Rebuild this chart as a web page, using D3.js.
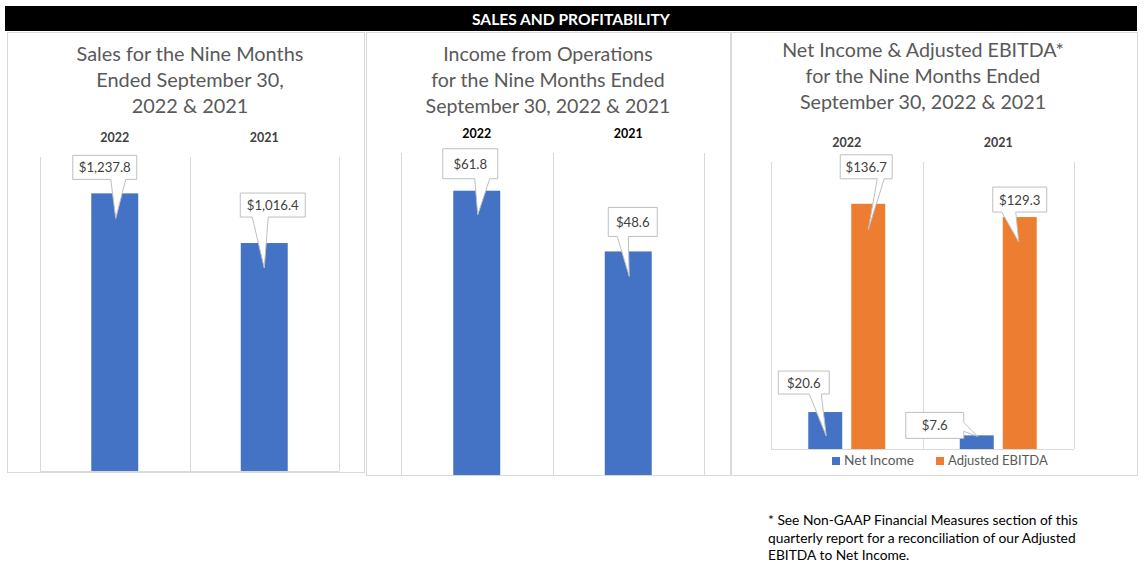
<!DOCTYPE html>
<html>
<head>
<meta charset="utf-8">
<script src="https://cdn.jsdelivr.net/npm/d3@7"></script>
<style>
  html, body { margin: 0; padding: 0; background: #fff; }
  svg { display: block; }
  text { font-family: Lato, "Open Sans", "Liberation Sans", sans-serif; }
</style>
</head>
<body>
<svg id="chart" width="1146" height="573"></svg>
<script>
// ---------------- DATA ----------------
const bannerTitle = "SALES AND PROFITABILITY";
const years = ["2022", "2021"];
const salesValues = [1237.8, 1016.4];
const opsValues = [61.8, 48.6];
const seriesNames = ["Net Income", "Adjusted EBITDA"];
const netIncomeValues = [20.6, 7.6];
const ebitdaValues = [136.7, 129.3];
const salesLabels = ["$1,237.8", "$1,016.4"];
const opsLabels = ["$61.8", "$48.6"];
const netIncomeLabels = ["$20.6", "$7.6"];
const ebitdaLabels = ["$136.7", "$129.3"];
const salesTitle = ["Sales for the Nine Months", "Ended September 30,", "2022 & 2021"];
const opsTitle = ["Income from Operations", "for the Nine Months Ended", "September 30, 2022 & 2021"];
const netTitle = ["Net Income & Adjusted EBITDA*", "for the Nine Months Ended", "September 30, 2022 & 2021"];
const footnoteLines = [
  "* See Non-GAAP Financial Measures section of this",
  "quarterly report for a reconciliation of our Adjusted",
  "EBITDA to Net Income."
];
const salesDomain = [0, 1400];
const opsDomain = [0, 70];
const netDomain = [0, 160];

// ---------------- STYLE / LAYOUT ----------------
const BLUE = "#4472C4", ORANGE = "#ED7D31";
const GRID = "#d9d9d9", TITLE = "#595959", LABEL = "#404040", BOXSTROKE = "#bfbfbf";
const svg = d3.select("#chart");

function fit(sel, target) {
  const w = sel.node().getComputedTextLength();
  const fs = parseFloat(sel.attr("font-size"));
  const nfs = fs * target / w;
  sel.attr("font-size", nfs);
  return nfs;
}

// banner
svg.append("rect").attr("x", 5).attr("y", 6).attr("width", 1132).attr("height", 25).attr("fill", "#000");
const bt = svg.append("text").attr("x", 571).attr("y", 25).attr("text-anchor", "middle")
  .attr("fill", "#fff").attr("font-weight", "bold").attr("font-size", 14).text(bannerTitle);
fit(bt, 198);

// panel borders
const panels = [
  {x: 7, y: 32, w: 357, h: 440},
  {x: 366, y: 32, w: 364, h: 443},
  {x: 731, y: 32, w: 406, h: 443}
];
svg.selectAll("rect.panel").data(panels).join("rect").attr("class", "panel")
  .attr("x", d => d.x + 0.5).attr("y", d => d.y + 0.5).attr("width", d => d.w).attr("height", d => d.h)
  .attr("fill", "#fff").attr("stroke", GRID).attr("stroke-width", 1);

function drawTitle(lines, cx, y0, target) {
  const t = lines.map((s, i) => svg.append("text").attr("x", cx).attr("y", y0 + i * 26)
    .attr("text-anchor", "middle").attr("fill", TITLE).attr("font-size", 20).text(s));
  let widest = 0, wi = 0;
  t.forEach((s, i) => { const w = s.node().getComputedTextLength(); if (w > widest) { widest = w; wi = i; } });
  const fs = fit(t[wi], target);
  t.forEach(s => s.attr("font-size", fs));
}

function drawFrame(x, y, yearY, yearColor) {
  const [y0, y1] = y.range();
  const edges = [x.range()[0], ...x.domain().slice(1).map(d => x(d)), x.range()[1]];
  svg.selectAll(null).data(edges).join("line")
    .attr("x1", d => Math.round(d) + 0.5).attr("x2", d => Math.round(d) + 0.5)
    .attr("y1", y1).attr("y2", y0).attr("stroke", GRID);
  svg.append("line").attr("x1", x.range()[0]).attr("x2", x.range()[1])
    .attr("y1", Math.round(y0) + 0.5).attr("y2", Math.round(y0) + 0.5).attr("stroke", GRID);
  const yl = svg.selectAll(null).data(x.domain()).join("text")
    .attr("x", d => x(d) + x.bandwidth() / 2).attr("y", yearY).attr("text-anchor", "middle")
    .attr("font-weight", "bold").attr("fill", yearColor).attr("font-size", 13).text(d => d);
  const fs = fit(d3.select(yl.nodes()[0]), 29);
  yl.attr("font-size", fs);
}

let labelFS = null;
function callout(cx, ty, text, L) {
  const bx = cx + L.bx, by = ty + L.by, w = L.w, h = L.h;
  const tx = cx + L.tip[0], tyy = ty + L.tip[1];
  let p;
  if (L.side === "bottom") {
    const a = cx + L.base[0], b = cx + L.base[1];
    p = `M${bx},${by}H${bx + w}V${by + h}H${b}L${tx},${tyy}L${a},${by + h}H${bx}Z`;
  } else {
    const a = ty + L.base[0], b = ty + L.base[1];
    p = `M${bx},${by}H${bx + w}V${a}L${tx},${tyy}L${bx + w},${b}V${by + h}H${bx}Z`;
  }
  svg.append("path").attr("d", p).attr("fill", "#fff").attr("stroke", BOXSTROKE).attr("stroke-width", 1)
    .attr("stroke-linejoin", "miter");
  const t = svg.append("text").attr("x", bx + w / 2).attr("y", by + h / 2 + 5).attr("text-anchor", "middle")
    .attr("fill", LABEL).attr("font-size", labelFS || 14).text(text);
  if (!labelFS) labelFS = fit(t, 52);
}

// ---------------- PANEL 1: SALES ----------------
{
  const x = d3.scaleBand().domain(years).range([40, 339]);
  const y = d3.scaleLinear().domain(salesDomain).range([471, 157]);
  drawTitle(salesTitle, 190, 61, 227);
  drawFrame(x, y, 142, LABEL);
  const bw = x.bandwidth() * 0.314;
  svg.selectAll(null).data(salesValues).join("rect")
    .attr("x", (d, i) => x(years[i]) + x.bandwidth() / 2 - bw / 2).attr("width", bw)
    .attr("y", d => y(d)).attr("height", d => y(0) - y(d)).attr("fill", BLUE);
  const lay = [
    {side: "bottom", bx: -42, by: -38, w: 64, h: 24, base: [-4, 11], tip: [1, 25]},
    {side: "bottom", bx: -24, by: -50, w: 65, h: 24, base: [-12, 4], tip: [0, 25]}
  ];
  salesValues.forEach((v, i) => callout(x(years[i]) + x.bandwidth() / 2, y(v), salesLabels[i], lay[i]));
}

// ---------------- PANEL 2: OPERATIONS ----------------
{
  const x = d3.scaleBand().domain(years).range([401, 704]);
  const y = d3.scaleLinear().domain(opsDomain).range([475, 153]);
  drawTitle(opsTitle, 548, 61, 245);
  drawFrame(x, y, 138, "#000");
  const bw = x.bandwidth() * 0.31;
  svg.selectAll(null).data(opsValues).join("rect")
    .attr("x", (d, i) => x(years[i]) + x.bandwidth() / 2 - bw / 2).attr("width", bw)
    .attr("y", d => y(d)).attr("height", d => y(0) - y(d)).attr("fill", BLUE);
  const lay = [
    {side: "bottom", bx: -34, by: -42, w: 55, h: 30, base: [-2, 13], tip: [1, 24]},
    {side: "bottom", bx: -20, by: -44, w: 49, h: 29, base: [-11, 0], tip: [1, 25]}
  ];
  opsValues.forEach((v, i) => callout(x(years[i]) + x.bandwidth() / 2, y(v), opsLabels[i], lay[i]));
}

// ---------------- PANEL 3: NET INCOME & EBITDA ----------------
{
  const x = d3.scaleBand().domain(years).range([771, 1074]);
  const y = d3.scaleLinear().domain(netDomain).range([449, 162]);
  drawTitle(netTitle, 923, 57, 282);
  drawFrame(x, y, 147, LABEL);
  const gw = x.bandwidth() * 0.508;
  const xs = d3.scaleBand().domain(seriesNames).range([0, gw]).paddingInner(0.21);
  const series = [netIncomeValues, ebitdaValues];
  const colors = [BLUE, ORANGE];
  const labels = [netIncomeLabels, ebitdaLabels];
  const lay = [
    [
      {side: "bottom", bx: -47, by: -41, w: 51, h: 23, base: [-16, -4], tip: [1, 24]},
      {side: "right", bx: -71, by: -23, w: 58, h: 26, base: [-13, -4], tip: [1, 1]}
    ],
    [
      {side: "bottom", bx: -28, by: -49, w: 52, h: 24, base: [9, 16], tip: [0, 26]},
      {side: "bottom", bx: -27, by: -30, w: 54, h: 25, base: [-18, -4], tip: [-1, 25]}
    ]
  ];
  series.forEach((vals, s) => {
    svg.selectAll(null).data(vals).join("rect")
      .attr("x", (d, i) => x(years[i]) + x.bandwidth() / 2 - gw / 2 + xs(seriesNames[s]))
      .attr("width", xs.bandwidth())
      .attr("y", d => y(d)).attr("height", d => y(0) - y(d)).attr("fill", colors[s]);
  });
  series.forEach((vals, s) => {
    vals.forEach((v, i) => {
      const cx = x(years[i]) + x.bandwidth() / 2 - gw / 2 + xs(seriesNames[s]) + xs.bandwidth() / 2;
      callout(cx, y(v), labels[s][i], lay[s][i]);
    });
  });
  // legend
  const legX = [832, 936];
  const legW = [70, 100];
  seriesNames.forEach((n, s) => {
    svg.append("rect").attr("x", legX[s]).attr("y", 457).attr("width", 8).attr("height", 8).attr("fill", colors[s]);
    const t = svg.append("text").attr("x", legX[s] + 12).attr("y", 465).attr("fill", TITLE)
      .attr("font-size", 13).text(n);
    fit(t, legW[s]);
  });
}

// ---------------- FOOTNOTE ----------------
{
  const ft = footnoteLines.map((s, i) => svg.append("text").attr("x", 768).attr("y", 525 + i * 17.5)
    .attr("fill", "#000").attr("font-size", 13).text(s));
  const fs = fit(ft[0], 310);
  ft.forEach(t => t.attr("font-size", fs));
}
</script>
</body>
</html>
